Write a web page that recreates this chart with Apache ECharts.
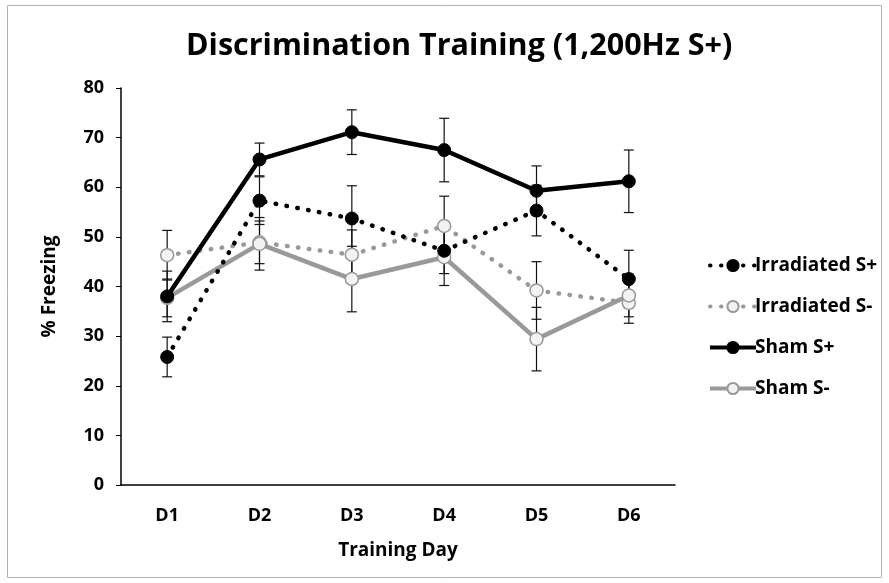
<!DOCTYPE html>
<html><head><meta charset="utf-8">
<script src="https://cdn.jsdelivr.net/npm/echarts@6/dist/echarts.min.js"></script>
<style>html,body{margin:0;padding:0;background:#fff}#c{width:889px;height:583px}</style>
</head><body><div id="c"></div>
<script>
const categories = ['D1','D2','D3','D4','D5','D6'];
const yTicks = [0,10,20,30,40,50,60,70,80];
const irrPlus = [25.8, 57.3, 53.7, 47.2, 55.3, 41.5];
const irrPlusErr = [4.0, 4.8, 6.6, 4.6, 5.1, 5.8];
const irrMinus = [46.3, 48.9, 46.4, 52.2, 39.2, 36.7];
const irrMinusErr = [5.0, 4.3, 5.0, 6.0, 5.8, 4.1];
const shamPlus = [38.0, 65.6, 71.1, 67.5, 59.3, 61.2];
const shamPlusErr = [5.1, 3.3, 4.5, 6.4, 5.0, 6.3];
const shamMinus = [37.7, 48.6, 41.5, 45.9, 29.4, 38.2];
const shamMinusErr = [3.8, 5.3, 6.6, 5.7, 6.4, 4.3];

const FONT = '"Open Sans"';
const chart = echarts.init(document.getElementById('c'));

function errSeries(vals, errs) {
  return {
    type: 'custom', silent: true, z: 1,
    data: vals.map((v, i) => [i, v - errs[i], v + errs[i]]),
    renderItem(params, api) {
      const lo = api.coord([api.value(0), api.value(1)]);
      const hi = api.coord([api.value(0), api.value(2)]);
      const w = 5;
      const st = {stroke: '#111', lineWidth: 1.2};
      return {type: 'group', children: [
        {type: 'line', shape: {x1: lo[0], y1: lo[1], x2: hi[0], y2: hi[1]}, style: st},
        {type: 'line', shape: {x1: lo[0]-w, y1: lo[1], x2: lo[0]+w, y2: lo[1]}, style: st},
        {type: 'line', shape: {x1: hi[0]-w, y1: hi[1], x2: hi[0]+w, y2: hi[1]}, style: st}
      ]};
    }
  };
}

const dotted = [0.5, 10.5];
chart.setOption({
  animation: false,
  title: {text: 'Discrimination Training (1,200Hz S+)', left: 181, top: 26,
    textStyle: {fontFamily: FONT, fontSize: 30.5, fontWeight: 'bold', color: '#000'}},
  graphic: [{type: 'rect', shape: {x: 7.5, y: 5.5, width: 874, height: 572},
    style: {fill: 'none', stroke: '#b0b0b0', lineWidth: 1}, silent: true}],
  legend: {
    orient: 'vertical', left: 703, top: 251, itemGap: 22, itemWidth: 46, itemHeight: 14,
    lineStyle: {width: 4},
    textStyle: {fontFamily: FONT, fontSize: 19, fontWeight: 'bold', color: '#000', padding: [0,0,0,-6]},
    data: ['Irradiated S+', 'Irradiated S-', 'Sham S+', 'Sham S-']
  },
  grid: {left: 121, right: 214, top: 88, bottom: 98},
  xAxis: {
    type: 'category', data: categories, boundaryGap: true,
    name: 'Training Day', nameLocation: 'middle', nameGap: 56,
    nameTextStyle: {fontFamily: FONT, fontSize: 19, fontWeight: 'bold', color: '#000'},
    axisLine: {lineStyle: {color: '#000', width: 1.5}},
    axisTick: {show: false},
    axisLabel: {fontFamily: FONT, fontSize: 18, fontWeight: 'bold', color: '#000', margin: 22}
  },
  yAxis: {
    type: 'value', min: 0, max: 80, interval: 10,
    name: '% Freezing', nameLocation: 'middle', nameGap: 62,
    nameTextStyle: {fontFamily: FONT, fontSize: 19, fontWeight: 'bold', color: '#000'},
    axisLine: {show: true, lineStyle: {color: '#000', width: 1.5}},
    axisTick: {show: true, length: 5, lineStyle: {color: '#000'}},
    splitLine: {show: false},
    axisLabel: {fontFamily: FONT, fontSize: 18, fontWeight: 'bold', color: '#000', margin: 17,
      formatter: v => yTicks.includes(v) ? String(v) : ''}
  },
  series: [
    errSeries(irrPlus, irrPlusErr),
    errSeries(irrMinus, irrMinusErr),
    errSeries(shamPlus, shamPlusErr),
    errSeries(shamMinus, shamMinusErr),
    {name: 'Irradiated S+', type: 'line', data: irrPlus, z: 3, symbol: 'circle', symbolSize: 13,
      lineStyle: {color: '#000', width: 4.5, type: dotted, cap: 'round'},
      itemStyle: {color: '#000', borderColor: '#000', borderWidth: 1}},
    {name: 'Irradiated S-', type: 'line', data: irrMinus, z: 2, symbol: 'circle', symbolSize: 13,
      lineStyle: {color: '#999', width: 4.5, type: dotted, cap: 'round'},
      itemStyle: {color: '#f2f2f2', borderColor: '#999', borderWidth: 1.5}},
    {name: 'Sham S+', type: 'line', data: shamPlus, z: 3, symbol: 'circle', symbolSize: 13,
      lineStyle: {color: '#000', width: 4.5},
      itemStyle: {color: '#000', borderColor: '#000', borderWidth: 1}},
    {name: 'Sham S-', type: 'line', data: shamMinus, z: 2, symbol: 'circle', symbolSize: 13,
      lineStyle: {color: '#999', width: 4.5},
      itemStyle: {color: '#f2f2f2', borderColor: '#999', borderWidth: 1.5}}
  ]
});
</script></body></html>
